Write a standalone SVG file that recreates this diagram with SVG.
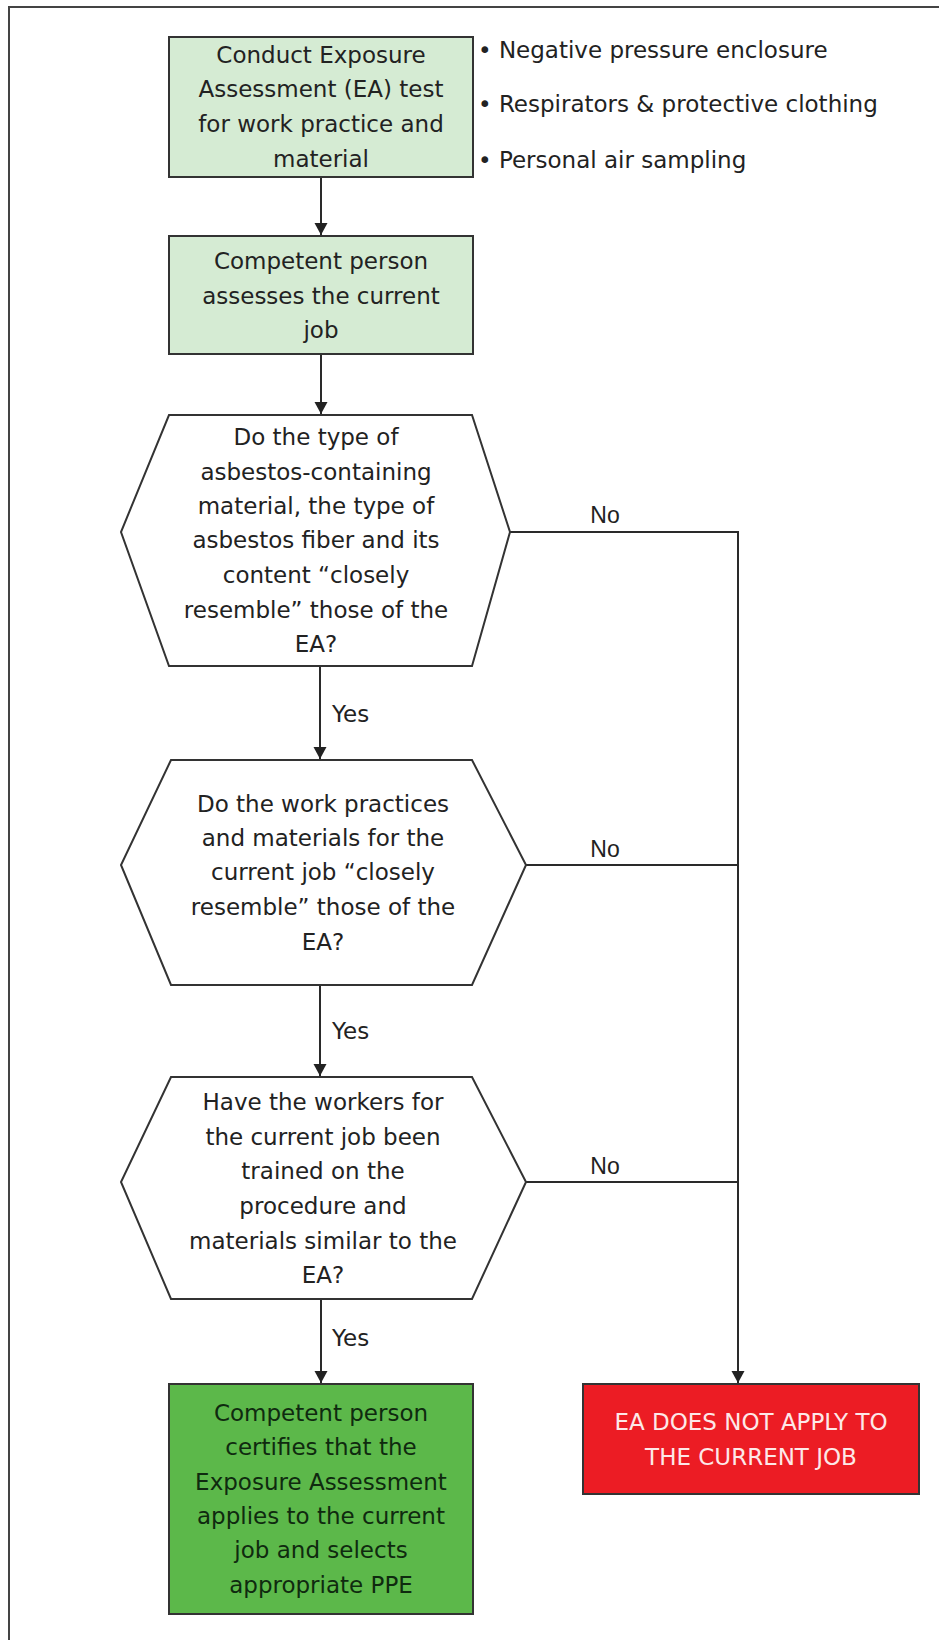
<svg xmlns="http://www.w3.org/2000/svg" width="939" height="1640" viewBox="0 0 939 1640">
<defs>
<style>
.t{font-family:"DejaVu Sans",Verdana,sans-serif;font-size:23px;fill:#222;text-anchor:middle}
.b{font-family:"DejaVu Sans",Verdana,sans-serif;font-size:23px;fill:#222}
.no{font-family:"Liberation Sans",Arial,sans-serif;font-size:23px;fill:#222;text-anchor:middle}
.ln{stroke:#2a2a2a;stroke-width:2;fill:none}
.box{stroke:#333;stroke-width:2}
</style>
<marker id="ah" markerWidth="12" markerHeight="22" refX="12" refY="6.5" orient="auto" markerUnits="userSpaceOnUse" viewBox="0 0 12 13">
<path d="M0,0 L12,6.5 L0,13 Z" fill="#222"/>
</marker>
</defs>
<rect x="0" y="0" width="939" height="1640" fill="#fff"/>
<rect x="9" y="7" width="1000" height="2000" fill="none" stroke="#444" stroke-width="2"/>

<g id="connectors">
<path class="ln" d="M321,177 L321,235" marker-end="url(#ah)"/>
<path class="ln" d="M321,354 L321,414" marker-end="url(#ah)"/>
<path class="ln" d="M320,666 L320,759" marker-end="url(#ah)"/>
<path class="ln" d="M320,985 L320,1076" marker-end="url(#ah)"/>
<path class="ln" d="M321,1299 L321,1383" marker-end="url(#ah)"/>
<path class="ln" d="M510,532 L738,532 L738,1383" marker-end="url(#ah)"/>
<path class="ln" d="M526,865 L738,865"/>
<path class="ln" d="M526,1182 L738,1182"/>
<text class="b" x="332" y="722">Yes</text>
<text class="b" x="332" y="1039">Yes</text>
<text class="b" x="332" y="1346">Yes</text>
<text class="no" x="605" y="523">No</text>
<text class="no" x="605" y="857">No</text>
<text class="no" x="605" y="1174">No</text>
</g>

<g id="n1">
<rect class="box" x="169" y="37" width="304" height="140" fill="#d5ebd3"/>
<text class="t" x="321" y="63">Conduct Exposure</text>
<text class="t" x="321" y="97">Assessment (EA) test</text>
<text class="t" x="321" y="132">for work practice and</text>
<text class="t" x="321" y="167">material</text>
</g>

<g id="notes">
<text class="b" x="478" y="58">• Negative pressure enclosure</text>
<text class="b" x="478" y="112">• Respirators &amp; protective clothing</text>
<text class="b" x="478" y="168">• Personal air sampling</text>
</g>

<g id="n2">
<rect class="box" x="169" y="236" width="304" height="118" fill="#d5ebd3"/>
<text class="t" x="321" y="269">Competent person</text>
<text class="t" x="321" y="304">assesses the current</text>
<text class="t" x="321" y="338">job</text>
</g>

<g id="d1">
<polygon class="box" fill="#fff" points="169,415 472,415 510,532 472,666 169,666 121,532"/>
<text class="t" x="316" y="445">Do the type of</text>
<text class="t" x="316" y="480">asbestos-containing</text>
<text class="t" x="316" y="514">material, the type of</text>
<text class="t" x="316" y="548">asbestos fiber and its</text>
<text class="t" x="316" y="583">content “closely</text>
<text class="t" x="316" y="618">resemble” those of the</text>
<text class="t" x="316" y="652">EA?</text>
</g>

<g id="d2">
<polygon class="box" fill="#fff" points="171,760 472,760 526,865 472,985 171,985 121,865"/>
<text class="t" x="323" y="812">Do the work practices</text>
<text class="t" x="323" y="846">and materials for the</text>
<text class="t" x="323" y="880">current job “closely</text>
<text class="t" x="323" y="915">resemble” those of the</text>
<text class="t" x="323" y="950">EA?</text>
</g>

<g id="d3">
<polygon class="box" fill="#fff" points="171,1077 472,1077 526,1182 472,1299 171,1299 121,1182"/>
<text class="t" x="323" y="1110">Have the workers for</text>
<text class="t" x="323" y="1145">the current job been</text>
<text class="t" x="323" y="1179">trained on the</text>
<text class="t" x="323" y="1214">procedure and</text>
<text class="t" x="323" y="1249">materials similar to the</text>
<text class="t" x="323" y="1283">EA?</text>
</g>

<g id="yes_end">
<rect class="box" x="169" y="1384" width="304" height="230" fill="#5cb84a"/>
<g class="t" style="fill:#0f2a0f">
<text class="t" style="fill:#0f2a0f" x="321" y="1421">Competent person</text>
<text class="t" style="fill:#0f2a0f" x="321" y="1455">certifies that the</text>
<text class="t" style="fill:#0f2a0f" x="321" y="1490">Exposure Assessment</text>
<text class="t" style="fill:#0f2a0f" x="321" y="1524">applies to the current</text>
<text class="t" style="fill:#0f2a0f" x="321" y="1558">job and selects</text>
<text class="t" style="fill:#0f2a0f" x="321" y="1593">appropriate PPE</text>
</g>
</g>

<g id="no_end">
<rect class="box" x="583" y="1384" width="336" height="110" fill="#ec1c24" stroke="#5a1010"/>
<text class="t" style="fill:#fde8e8" x="751" y="1430">EA DOES NOT APPLY TO</text>
<text class="t" style="fill:#fde8e8" x="751" y="1465">THE CURRENT JOB</text>
</g>
</svg>
